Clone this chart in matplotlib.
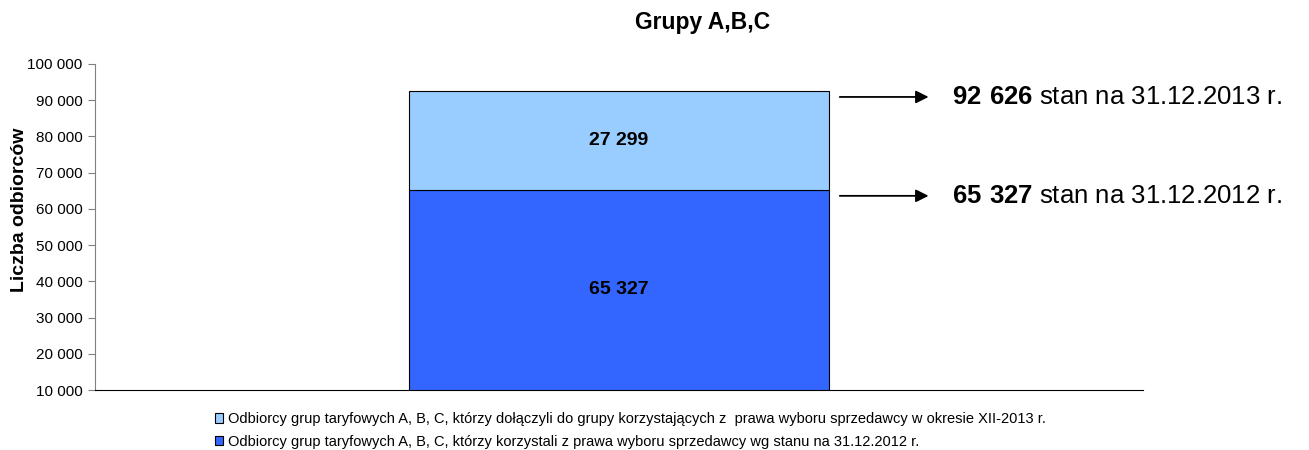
import matplotlib
matplotlib.use('Agg')
import matplotlib.pyplot as plt
import matplotlib.transforms as mtransforms
from matplotlib.ticker import FuncFormatter

plt.rcParams['font.family'] = ['Liberation Sans', 'DejaVu Sans']
plt.rcParams['mathtext.fontset'] = 'custom'
plt.rcParams['mathtext.rm'] = 'Liberation Sans'
plt.rcParams['mathtext.bf'] = 'Liberation Sans:bold'

# data
categories = ['Grupy A,B,C']
base_2012 = [65327]
added_2013 = [27299]
series_labels = [
    'Odbiorcy grup taryfowych A, B, C, którzy dołączyli do grupy korzystających z  prawa wyboru sprzedawcy w okresie XII-2013 r.',
    'Odbiorcy grup taryfowych A, B, C, którzy korzystali z prawa wyboru sprzedawcy wg stanu na 31.12.2012 r.',
]
note_dates = ['31.12.2012', '31.12.2013']
y_min, y_max = 10000, 100000

def fmt(v, pos=None):
    return f'{int(v):,}'.replace(',', ' ')

fig = plt.figure(figsize=(13.09, 4.5), dpi=100)
ax = fig.add_axes([0.0726, 0.1333, 0.8006, 0.7245])

x = range(len(categories))
b1 = ax.bar(x, base_2012, width=0.4, color='#3366FF', edgecolor='black', linewidth=0.8)
b2 = ax.bar(x, added_2013, bottom=base_2012, width=0.4, color='#99CCFF', edgecolor='black', linewidth=0.8)

ax.set_xlim(-0.5, 0.5)
ax.set_ylim(y_min, y_max)
ax.set_yticks(range(y_min, y_max + 1, 10000))
ax.yaxis.set_major_formatter(FuncFormatter(fmt))
ax.set_xticks([])
ax.tick_params(axis='y', labelsize=11, length=5, color='#808080', pad=4)
for s in ['top', 'right']:
    ax.spines[s].set_visible(False)
ax.spines['left'].set_color('#808080')
ax.spines['bottom'].set_color('black')
ax.set_ylabel('Liczba odbiorców', fontsize=14, fontweight='bold')
ax.yaxis.set_label_coords(-0.064, 0.552)

# values inside segments
for i in x:
    lo = max(y_min, 0)
    ax.text(i, (lo + base_2012[i]) / 2, fmt(base_2012[i]), ha='center', va='center',
            fontsize=14, fontweight='bold')
    ax.text(i, base_2012[i] + added_2013[i] / 2, fmt(added_2013[i]), ha='center', va='center',
            fontsize=14, fontweight='bold')

# arrows with totals (sit a little below the level they point at)
trans = mtransforms.blended_transform_factory(ax.transAxes, ax.transData) + \
    mtransforms.ScaledTranslation(0, -4.5 / 72, fig.dpi_scale_trans)
totals = [base_2012[0], base_2012[0] + added_2013[0]]
for val, d in zip(totals, note_dates):
    ax.annotate('', xy=(0.798, val), xytext=(0.708, val),
                xycoords=trans, textcoords=trans,
                arrowprops=dict(arrowstyle='-|>', color='black', lw=1.3, mutation_scale=19),
                annotation_clip=False)
    num = fmt(val).replace(' ', r'\ ')
    ax.annotate(r'$\mathbf{' + num + '}$ stan na ' + d + ' r.', xy=(0.818, val),
                xycoords=trans, ha='left', va='center',
                fontsize=18.5, annotation_clip=False)

fig.text(0.537, 0.951, 'Grupy A,B,C', ha='center', va='center', fontsize=16.5, fontweight='bold')

fig.legend([b2, b1], series_labels, loc='upper left', bbox_to_anchor=(0.164, 0.084),
           frameon=False, fontsize=10.5, handlelength=0.6, handleheight=0.6,
           handletextpad=0.3, labelspacing=0.6, borderaxespad=0, borderpad=0)

fig.savefig('out.png', dpi=100)
